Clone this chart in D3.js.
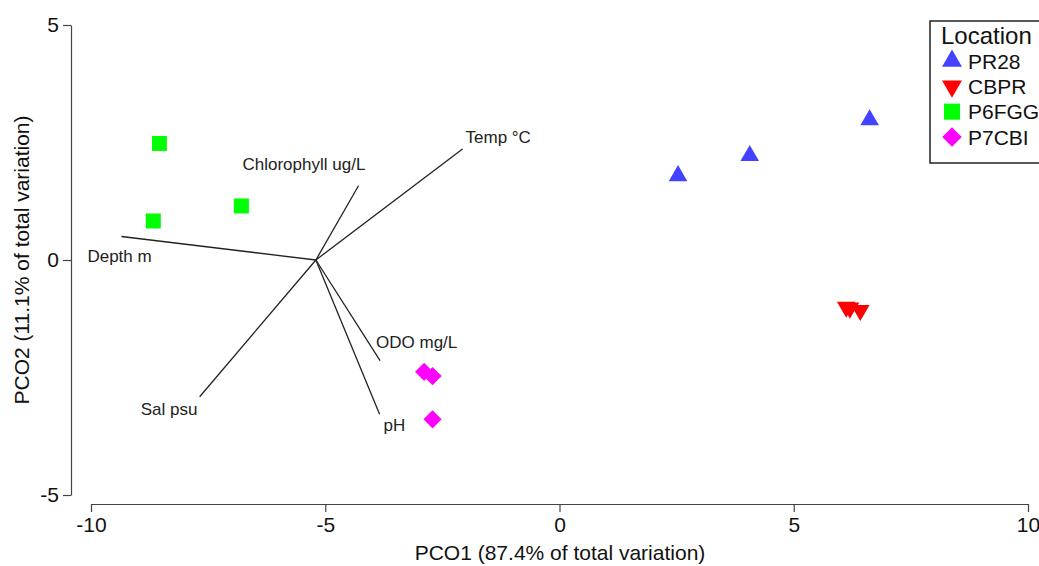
<!DOCTYPE html>
<html>
<head>
<meta charset="utf-8">
<script src="https://cdn.jsdelivr.net/npm/d3@7"></script>
<style>
  body { margin: 0; background: #fff; }
  text { font-family: "Liberation Sans", Arial, sans-serif; }
</style>
</head>
<body>
<div class="canvas"></div>
<script>
// groups (sample scores)
const groups = ['PR28', 'CBPR', 'P6FGG', 'P7CBI'];
const pr28X = [2.53, 4.06, 6.62];
const pr28Y = [1.79, 2.22, 2.98];
const cbprX = [6.12, 6.20, 6.42];
const cbprY = [-1.00, -1.02, -1.07];
const p6fggX = [-8.54, -8.67, -6.79];
const p6fggY = [2.48, 0.83, 1.15];
const p7cbiX = [-2.89, -2.71, -2.71];
const p7cbiY = [-2.38, -2.47, -3.39];

// vectors (variable correlations)
const vecNames = ['Depth m', 'Chlorophyll ug/L', 'Temp °C', 'Sal psu', 'ODO mg/L', 'pH'];
const vecX = [-9.35, -4.29, -2.07, -7.68, -3.83, -3.84];
const vecY = [0.50, 1.58, 2.36, -2.91, -2.14, -3.28];
const vecOrigin = [-5.2, 0.0];

const xTicks = [-10, -5, 0, 5, 10];
const yTicks = [-5, 0, 5];

const dims = { width: 1039, height: 566 };

const svg = d3.select('.canvas').append('svg')
  .attr('width', dims.width)
  .attr('height', dims.height);

const x = d3.scaleLinear().domain([-10, 10]).range([91, 1028]);
const y = d3.scaleLinear().domain([-5, 5]).range([495, 25]);

// axes (plain hyphen for negatives, like the original)
const axisCol = '#444';
const fmt = d => String(d);
const yAxis = svg.append('g')
  .attr('transform', 'translate(71,0)')
  .call(d3.axisLeft(y).tickValues(yTicks).tickFormat(fmt).tickSize(8).tickSizeOuter(0).tickPadding(4));
const xAxis = svg.append('g')
  .attr('transform', 'translate(0,504)')
  .call(d3.axisBottom(x).tickValues(xTicks).tickFormat(fmt).tickSize(8).tickSizeOuter(0).tickPadding(5));

[xAxis, yAxis].forEach(a => {
  a.selectAll('path, line').attr('stroke', axisCol).attr('stroke-width', 1.2);
  a.selectAll('text').attr('font-size', 21).attr('fill', '#111')
    .attr('font-family', '"Liberation Sans", Arial, sans-serif');
});

// axis titles
svg.append('text')
  .attr('x', 560).attr('y', 560)
  .attr('text-anchor', 'middle')
  .attr('font-size', 21).attr('fill', '#111')
  .text('PCO1 (87.4% of total variation)');

svg.append('text')
  .attr('transform', 'translate(29,260) rotate(-90)')
  .attr('text-anchor', 'middle')
  .attr('font-size', 21).attr('fill', '#111')
  .text('PCO2 (11.1% of total variation)');

// vectors
const vecs = vecNames.map((name, i) => ({ name, x: vecX[i], y: vecY[i] }));
// label offsets from line end (px)
const labelOff = {
  'Depth m': [-34, 25],
  'Chlorophyll ug/L': [-116, -16],
  'Temp °C': [3, -6],
  'Sal psu': [-59, 18],
  'ODO mg/L': [-4, -13],
  'pH': [4, 17]
};

const vg = svg.append('g');
vg.selectAll('line')
  .data(vecs)
  .enter().append('line')
  .attr('x1', x(vecOrigin[0])).attr('y1', y(vecOrigin[1]))
  .attr('x2', d => x(d.x)).attr('y2', d => y(d.y))
  .attr('stroke', '#222').attr('stroke-width', 1.3);

vg.selectAll('text')
  .data(vecs)
  .enter().append('text')
  .attr('x', d => x(d.x) + labelOff[d.name][0])
  .attr('y', d => y(d.y) + labelOff[d.name][1])
  .attr('font-size', 17).attr('fill', '#222')
  .text(d => d.name);

// points
const colour = d3.scaleOrdinal().domain(groups)
  .range(['#4343ff', '#ff0000', '#00ff00', '#ff00ff']);

const shapes = {
  PR28: { type: d3.symbolTriangle, size: 150, rot: 0 },
  CBPR: { type: d3.symbolTriangle, size: 150, rot: 180 },
  P6FGG: { type: d3.symbolSquare, size: 225, rot: 0 },
  P7CBI: { type: d3.symbolSquare, size: 165, rot: 45 }
};

const pts = [];
[[pr28X, pr28Y], [cbprX, cbprY], [p6fggX, p6fggY], [p7cbiX, p7cbiY]].forEach((xy, g) => {
  xy[0].forEach((v, i) => pts.push({ group: groups[g], x: v, y: xy[1][i] }));
});

svg.append('g').selectAll('path')
  .data(pts)
  .enter().append('path')
  .attr('d', d => d3.symbol().type(shapes[d.group].type).size(shapes[d.group].size)())
  .attr('transform', d => `translate(${x(d.x)},${y(d.y)}) rotate(${shapes[d.group].rot})`)
  .attr('fill', d => colour(d.group));

// legend
const legend = svg.append('g');
legend.append('rect')
  .attr('x', 930).attr('y', 21)
  .attr('width', 200).attr('height', 142)
  .attr('fill', '#fff').attr('stroke', '#222').attr('stroke-width', 1.5);
legend.append('text')
  .attr('x', 941).attr('y', 44)
  .attr('font-size', 24).attr('fill', '#111')
  .text('Location');

const legendY = d3.scalePoint().domain(groups).range([61, 137]);
const items = legend.selectAll('g.item')
  .data(groups)
  .enter().append('g')
  .attr('class', 'item')
  .attr('transform', d => `translate(952,${legendY(d)})`);
items.append('path')
  .attr('d', d => d3.symbol().type(shapes[d].type).size(shapes[d].size * 1.15)())
  .attr('transform', d => `rotate(${shapes[d].rot})`)
  .attr('fill', d => colour(d));
items.append('text')
  .attr('x', 16).attr('dy', '0.36em')
  .attr('font-size', 21).attr('fill', '#111')
  .text(d => d);
</script>
</body>
</html>
